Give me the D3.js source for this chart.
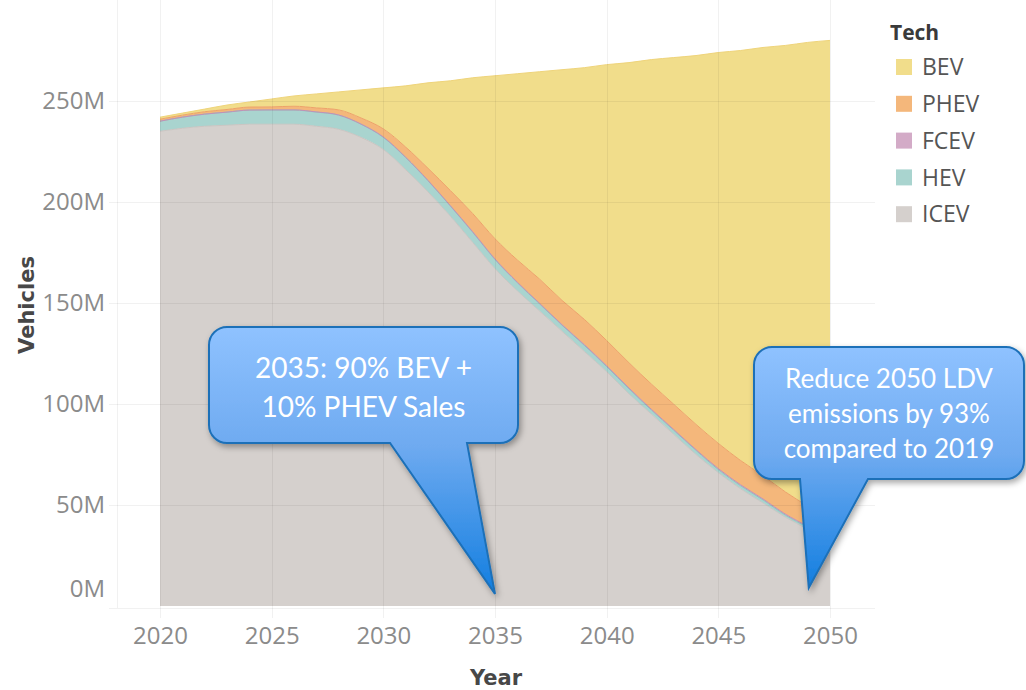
<!DOCTYPE html>
<html>
<head>
<meta charset="utf-8">
<script src="https://cdn.jsdelivr.net/npm/d3@7"></script>
<style>
  body { margin: 0; background: #fff; }
  svg { display: block; font-family: "Open Sans", sans-serif; }
</style>
</head>
<body>
<div class="chart"></div>
<script>
// values in millions of vehicles
let years = d3.range(2020, 2051)
let techKeys = ["ICEV", "HEV", "FCEV", "PHEV", "BEV"]   // stack order, bottom first
let legendKeys = ["BEV", "PHEV", "FCEV", "HEV", "ICEV"]

let icev = [235, 236.5, 237.5, 238, 238.5, 238.5, 238.5, 237.5, 236, 232, 226,
            216, 205, 193, 180, 167, 156, 146, 136, 126, 116,
            105, 95, 85, 75, 66, 58, 51, 44, 38, 32]
let hev = [5, 5.5, 6, 6.5, 7, 7, 7, 7, 7, 6.5, 6,
           6, 5.5, 5, 5, 4.5, 4, 3.5, 3, 3, 2.5,
           2.5, 2, 2, 2, 1.5, 1.5, 1.5, 1, 1, 1]
let fcev = [0, 0, 0, 0, 0, 0.1, 0.1, 0.1, 0.1, 0.1, 0.2,
            0.2, 0.2, 0.2, 0.3, 0.3, 0.3, 0.3, 0.3, 0.4, 0.4,
            0.4, 0.4, 0.4, 0.4, 0.5, 0.5, 0.5, 0.5, 0.5, 0.5]
let phev = [1, 1, 1.2, 1.3, 1.5, 1.5, 1.8, 2, 2.5, 3, 4,
            5, 6, 7.5, 9, 10, 11, 12, 12, 12.5, 12.5,
            12.5, 12.5, 12.5, 12.5, 12.5, 12, 11.5, 11, 10, 9.5]
let bev = [1, 1, 1.3, 2.2, 2.5, 3.9, 5.1, 6.9, 8.9, 13.9, 20.3,
           30.3, 42.3, 54.3, 67.2, 80.7, 92.2, 102.7, 114.2, 124.6, 136.6,
           148.6, 160.6, 171.6, 182.6, 193.5, 203, 212, 221, 229.5, 237]

let xTicks = [2020, 2025, 2030, 2035, 2040, 2045, 2050]
let yTicks = [0, 50, 100, 150, 200, 250]

let colors = {
    BEV: "#f1dd8b",
    PHEV: "#f4b77b",
    FCEV: "#d3abc7",
    HEV: "#a9d4cf",
    ICEV: "#d5d0cd"
}
let edgeColors = {
    BEV: "#efd47a",
    PHEV: "#eda369",
    FCEV: "#c490b5",
    HEV: "#8fc4bf",
    ICEV: "#cbc5c2"
}

let callouts = [
    { lines: ["2035: 90% BEV +", "10% PHEV Sales"], size: 28, lh: 39, shift: 3,
      box: [209, 327, 518, 443], base: [390, 467], tip: [2035, 6] },
    { lines: ["Reduce 2050 LDV", "emissions by 93%", "compared to 2019"], size: 26, lh: 35, shift: 1,
      box: [754, 347, 1024, 479], base: [800, 868], tip: [2049.05, 9] }
]

let table = years.map((yr, i) => ({
    year: yr, ICEV: icev[i], HEV: hev[i], FCEV: fcev[i], PHEV: phev[i], BEV: bev[i]
}))

let svg = d3.select(".chart")
    .append("svg")
    .attr("width", 1026)
    .attr("height", 690)

let x = d3.scaleLinear().domain([2020, 2050]).range([160, 830])
let y = d3.scaleLinear().domain([0, 300]).range([606, 0])

let pane = { left: 117, right: 875, top: 0, bottom: 608 }

let defs = svg.append("defs")
let grad = defs.append("linearGradient")
    .attr("id", "calloutFill")
    .attr("x1", 0).attr("y1", 0).attr("x2", 0).attr("y2", 1)
grad.append("stop").attr("offset", "0%").attr("stop-color", "#8fc2ff")
grad.append("stop").attr("offset", "45%").attr("stop-color", "#6eaaf0")
grad.append("stop").attr("offset", "100%").attr("stop-color", "#127ee0")

let shadow = defs.append("filter")
    .attr("id", "shadow")
    .attr("x", "-10%").attr("y", "-10%").attr("width", "130%").attr("height", "130%")
shadow.append("feDropShadow")
    .attr("dx", 2).attr("dy", 3)
    .attr("stdDeviation", 3)
    .attr("flood-color", "#000")
    .attr("flood-opacity", 0.35)

//areas
let stacked = d3.stack().keys(techKeys)(table)

let area = d3.area()
    .x(d => x(d.data.year))
    .y0(d => y(d[0]))
    .y1(d => y(d[1]))
    .curve(d3.curveMonotoneX)

let topLine = d3.line()
    .x(d => x(d.data.year))
    .y(d => y(d[1]))
    .curve(d3.curveMonotoneX)

let areas = svg.append("g")
areas.selectAll("path.band")
    .data(stacked)
    .enter()
    .append("path")
    .attr("class", "band")
    .attr("fill", d => colors[d.key])
    .attr("d", area)

areas.selectAll("path.edge")
    .data(stacked)
    .enter()
    .append("path")
    .attr("class", "edge")
    .attr("fill", "none")
    .attr("stroke", d => edgeColors[d.key])
    .attr("stroke-width", 1)
    .attr("d", topLine)

//grid on top, faint
let grid = svg.append("g")
    .attr("stroke", "#000")
    .attr("stroke-opacity", 0.055)
    .attr("stroke-width", 1)

grid.selectAll("line.h")
    .data(yTicks.filter(t => t > 0))
    .enter()
    .append("line")
    .attr("x1", pane.left - 8).attr("x2", pane.right)
    .attr("y1", d => Math.round(y(d)) + 0.5)
    .attr("y2", d => Math.round(y(d)) + 0.5)

grid.selectAll("line.v")
    .data(xTicks)
    .enter()
    .append("line")
    .attr("x1", d => Math.round(x(d)) + 0.5)
    .attr("x2", d => Math.round(x(d)) + 0.5)
    .attr("y1", pane.top).attr("y2", pane.bottom + 10)

grid.append("line")
    .attr("x1", pane.left + 0.5).attr("x2", pane.left + 0.5)
    .attr("y1", pane.top).attr("y2", pane.bottom)
grid.append("line")
    .attr("x1", pane.left - 8).attr("x2", pane.right)
    .attr("y1", pane.bottom + 0.5).attr("y2", pane.bottom + 0.5)

//axes (tableau style: labels only)
let xAxis = d3.axisBottom(x)
    .tickValues(xTicks)
    .tickFormat(d3.format("d"))
    .tickSize(0)
    .tickPadding(19)
let gx = svg.append("g")
    .attr("transform", "translate(0," + pane.bottom + ")")
    .call(xAxis)
gx.select(".domain").remove()

let yAxis = d3.axisLeft(y)
    .tickValues(yTicks)
    .tickFormat(d => d + "M")
    .tickSize(0)
    .tickPadding(12)
let gy = svg.append("g")
    .attr("transform", "translate(" + pane.left + ",0)")
    .call(yAxis)
gy.select(".domain").remove()
gy.selectAll(".tick").filter(d => d === 0).select("text").attr("dy", "-0.38em")

svg.selectAll(".tick text")
    .attr("font-family", "Open Sans, sans-serif")
    .attr("font-size", 24)
    .attr("fill", "#8b8b8b")

svg.append("text")
    .attr("transform", "translate(34,305) rotate(-90)")
    .attr("text-anchor", "middle")
    .attr("font-family", "DejaVu Sans, sans-serif")
    .attr("font-size", 21)
    .attr("font-weight", "bold")
    .attr("fill", "#474747")
    .text("Vehicles")

svg.append("text")
    .attr("x", 496)
    .attr("y", 685)
    .attr("text-anchor", "middle")
    .attr("font-family", "DejaVu Sans, sans-serif")
    .attr("font-size", 21)
    .attr("font-weight", "bold")
    .attr("fill", "#474747")
    .text("Year")

//legend
let legend = svg.append("g").attr("transform", "translate(890,0)")
legend.append("text")
    .attr("x", 0).attr("y", 40)
    .attr("font-size", 21)
    .attr("font-weight", "bold")
    .attr("fill", "#3a3a3a")
    .text("Tech")

let items = legend.selectAll("g.item")
    .data(legendKeys)
    .enter()
    .append("g")
    .attr("class", "item")
    .attr("transform", (d, i) => "translate(0," + (67 + i * 36.8) + ")")
items.append("rect")
    .attr("x", 6).attr("y", -8)
    .attr("width", 16).attr("height", 16)
    .attr("fill", d => colors[d])
items.append("text")
    .attr("x", 32).attr("y", 0)
    .attr("dy", "0.36em")
    .attr("font-size", 23)
    .attr("fill", "#555")
    .text(d => d)

//callouts
function bubblePath(c) {
    let [x0, y0, x1, y1] = c.box
    let r = 18
    let tx = x(c.tip[0]), ty = y(c.tip[1])
    return "M" + (x0 + r) + "," + y0 +
        "H" + (x1 - r) + "A" + r + "," + r + " 0 0 1 " + x1 + "," + (y0 + r) +
        "V" + (y1 - r) + "A" + r + "," + r + " 0 0 1 " + (x1 - r) + "," + y1 +
        "H" + c.base[1] + "L" + tx + "," + ty + "L" + c.base[0] + "," + y1 +
        "H" + (x0 + r) + "A" + r + "," + r + " 0 0 1 " + x0 + "," + (y1 - r) +
        "V" + (y0 + r) + "A" + r + "," + r + " 0 0 1 " + (x0 + r) + "," + y0 + "Z"
}

let bubbles = svg.selectAll("g.callout")
    .data(callouts)
    .enter()
    .append("g")
    .attr("class", "callout")

bubbles.append("path")
    .attr("d", bubblePath)
    .attr("fill", "url(#calloutFill)")
    .attr("stroke", "#1c70b8")
    .attr("stroke-width", 2)
    .attr("filter", "url(#shadow)")

bubbles.each(function (c) {
    let cx = (c.box[0] + c.box[2]) / 2
    let midY = (c.box[1] + c.box[3]) / 2 + c.shift
    let firstY = midY - (c.lines.length - 1) * c.lh / 2
    d3.select(this).selectAll("text")
        .data(c.lines)
        .enter()
        .append("text")
        .attr("x", cx)
        .attr("y", (d, i) => firstY + i * c.lh)
        .attr("dy", "0.35em")
        .attr("text-anchor", "middle")
        .attr("font-family", "Lato, sans-serif")
        .attr("font-size", c.size)
        .attr("fill", "#fff")
        .text(d => d)
})
</script>
</body>
</html>
